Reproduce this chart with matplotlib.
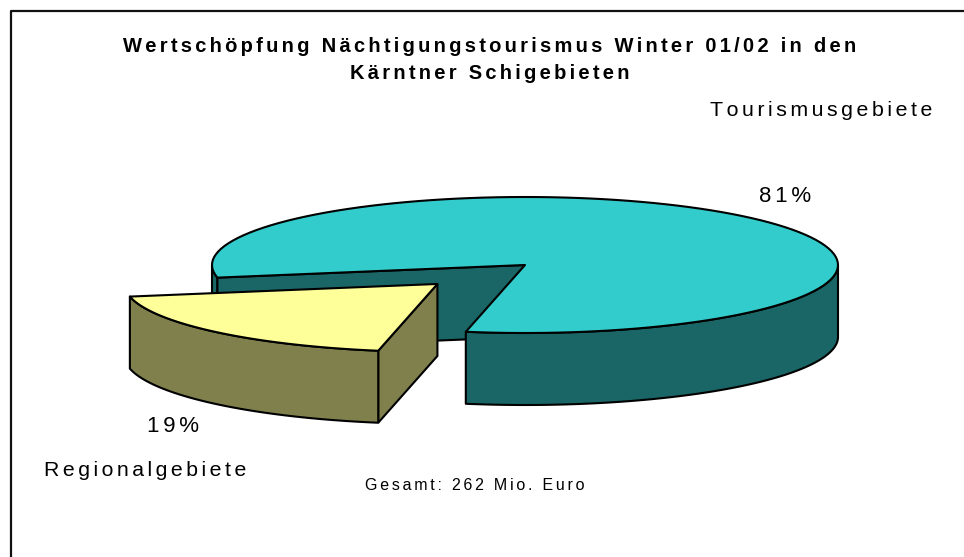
import matplotlib
matplotlib.use('Agg')
import matplotlib.pyplot as plt
import numpy as np
from matplotlib.patches import Polygon

title = 'Wertschöpfung Nächtigungstourismus Winter 01/02 in den\nKärntner Schigebieten'
regions = ['Tourismusgebiete', 'Regionalgebiete']
shares = [81, 19]
total_note = 'Gesamt: 262 Mio. Euro'

plt.rcParams['font.family'] = ['Liberation Sans', 'DejaVu Sans']

# pie layout in pixels
cx, cy = 525, 265
rx, ry = 313, 68
depth = 72
start = 190.7
explode = 0.395

top_col = ['#33CCCC', '#FFFF99']
side_col = ['#1A6666', '#80804D']


def spaced(s, gap='\u200a\u200a'):
    # the original has wide letter spacing, hair spaces get close to that
    return gap.join(s)


def pt(a, ox=0, oy=0, d=0):
    a = np.radians(a)
    return np.column_stack([cx + ox + rx*np.cos(a), cy + oy - ry*np.sin(a) + d])


def arc(a0, a1, ox=0, oy=0, d=0):
    return pt(np.linspace(a0, a1, 120), ox, oy, d)


def wall(ax, a0, a1, col, ox=0, oy=0):
    xy = np.vstack([arc(a0, a1, ox, oy), arc(a1, a0, ox, oy, depth)])
    ax.add_patch(Polygon(xy, fc=col, ec='k', lw=1.5, joinstyle='round'))


fig = plt.figure(figsize=(9.64, 5.57), dpi=100)
ax = fig.add_axes([0, 0, 1, 1])
ax.set_xlim(0, 964)
ax.set_ylim(557, 0)
ax.axis('off')

# only the left and top edge of the frame are in the picture
ax.plot([10.5, 10.5, 964], [557, 11, 11], color='#111111', lw=1.6)

sweep = np.array(shares) / sum(shares) * 360
a_end = start + sweep[1]
mid = np.radians(start + sweep[1] / 2)
ox = explode * rx * np.cos(mid)
oy = -explode * ry * np.sin(mid)

# big slice, back to front
wall(ax, 180, start, side_col[0])
p = pt(start)[0]
ax.add_patch(Polygon([p, (cx, cy), (cx, cy + depth), (p[0], p[1] + depth)],
                     fc=side_col[0], ec='k', lw=1.5))
wall(ax, a_end, 360, side_col[0])
ax.add_patch(Polygon(np.vstack([[(cx, cy)], arc(a_end, 360 + start)]),
                     fc=top_col[0], ec='k', lw=1.5, joinstyle='round'))

# pulled out slice
tip = (cx + ox, cy + oy)
p = pt(a_end, ox, oy)[0]
ax.add_patch(Polygon([tip, p, (p[0], p[1] + depth), (tip[0], tip[1] + depth)],
                     fc=side_col[1], ec='k', lw=1.5))
wall(ax, start, a_end, side_col[1], ox, oy)
ax.add_patch(Polygon(np.vstack([[tip], arc(start, a_end, ox, oy)]),
                     fc=top_col[1], ec='k', lw=1.5, joinstyle='round'))

line1, line2 = title.split('\n')
ax.text(490, 60, spaced(line1) + '\n' + spaced(line2),
        ha='center', va='center', fontsize=14.5, fontweight='bold',
        linespacing=1.52, color='k')
ax.text(821, 111, spaced(regions[0]), ha='center', va='center', fontsize=15.4)
ax.text(145.5, 471, spaced(regions[1]), ha='center', va='center', fontsize=15.3)
ax.text(785, 196, spaced(f'{shares[0]}%'), ha='center', va='center', fontsize=16)
ax.text(173, 427, spaced(f'{shares[1]}%'), ha='center', va='center', fontsize=16)
ax.text(475, 486, spaced(total_note), ha='center', va='center', fontsize=11.5)

fig.savefig('out.png', dpi=100)
